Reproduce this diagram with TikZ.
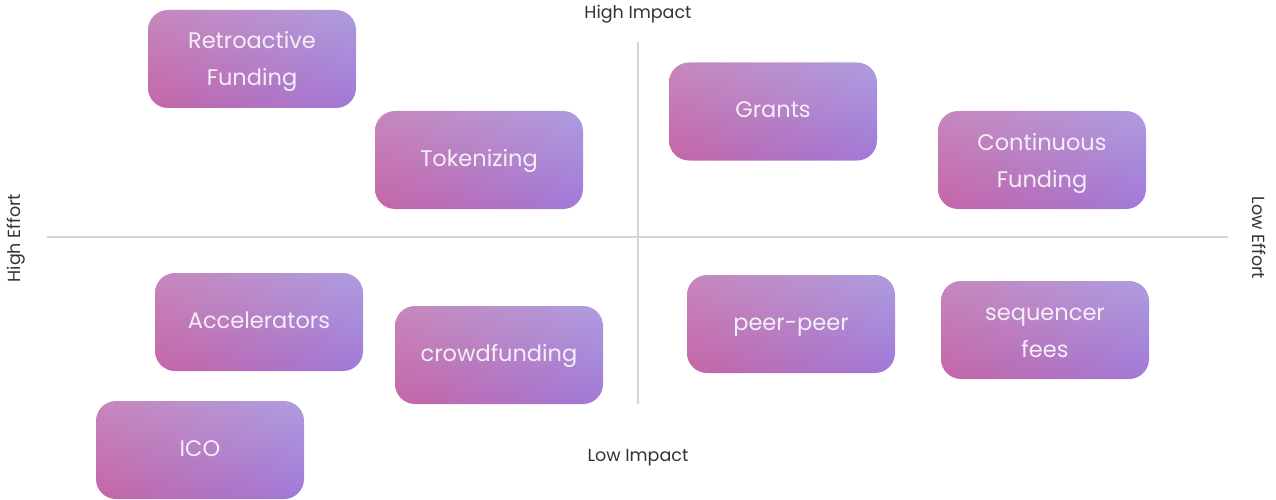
\documentclass[tikz,border=0pt]{standalone}
\usepackage{fontspec}
\setmainfont{Poppins}
\usetikzlibrary{shadings}
\definecolor{cTL}{HTML}{C687BD}
\definecolor{cTR}{HTML}{AE9CDF}
\definecolor{cBL}{HTML}{C566A6}
\definecolor{cBR}{HTML}{A079D8}
\definecolor{boxtext}{HTML}{F5EEF7}
\definecolor{axis}{HTML}{D6D6D6}
\definecolor{lbl}{HTML}{333333}
\tikzset{
  card/.style={rectangle, rounded corners=20pt, minimum width=208pt, minimum height=98pt,
    upper left=cTL, upper right=cTR, lower left=cBL, lower right=cBR,
    text=boxtext, align=center, inner sep=0pt,
    text height=17pt, text depth=5pt,
    font=\fontsize{22.5}{37}\selectfont},
  twoline/.style={text height=59pt, text depth=5pt},
  axislabel/.style={text=lbl, inner sep=0pt, font=\fontsize{17.5}{20}\selectfont},
  axisline/.style={draw=axis, line width=1.2pt}
}
\begin{document}
\begin{tikzpicture}[x=1pt,y=-1pt]
\useasboundingbox (0,0) rectangle (1276,500);
% axes
\coordinate (hl) at (47,237);
\coordinate (hr) at (1228,237);
\coordinate (vt) at (638,42);
\coordinate (vb) at (638,404);
\draw[axisline] (hl) -- (hr);
\draw[axisline] (vt) -- (vb);
% labels
\node[axislabel] (hi) at (638,14) {High Impact};
\node[axislabel] (lo) at (638,458) {Low Impact};
\node[axislabel, rotate=90] (he) at (16,238) {High Effort};
\node[axislabel, rotate=-90] (le) at (1259,238) {Low Effort};
% cards
\node[card, twoline] (retro) at (252,59) {Retroactive\\Funding};
\node[card] (token) at (479,160) {Tokenizing};
\node[card] (grants) at (773,111.5) {Grants};
\node[card, twoline] (cont) at (1042,160) {Continuous\\Funding};
\node[card] (accel) at (259,322) {Accelerators};
\node[card] (crowd) at (499,355) {crowdfunding};
\node[card] (peer) at (791,324) {peer-peer};
\node[card, twoline] (seq) at (1045,330) {sequencer\\fees};
\node[card] (ico) at (200,450) {ICO};
\end{tikzpicture}
\end{document}
